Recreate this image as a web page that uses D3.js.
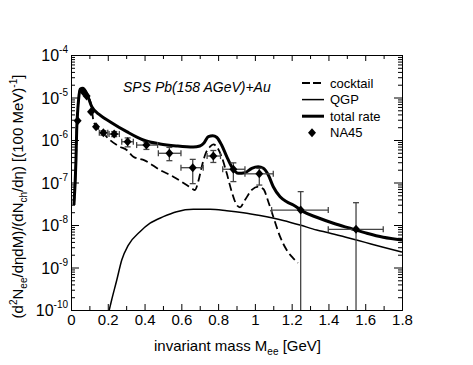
<!DOCTYPE html>
<html>
<head>
<meta charset="utf-8">
<script src="https://cdn.jsdelivr.net/npm/d3@7"></script>
<style>
body { margin: 0; background: #fff; }
svg { display: block; font-family: "Liberation Sans", Arial, Helvetica, sans-serif; }
</style>
</head>
<body>
<div id="chart"></div>
<script>
// total rate (thick line)
const totalMass = [0.016, 0.027, 0.031, 0.035, 0.041, 0.049, 0.064, 0.085, 0.113, 0.158, 0.212, 0.303, 0.393, 0.484, 0.575, 0.665, 0.701, 0.723, 0.747, 0.771, 0.792, 0.819, 0.847, 0.874, 0.910, 0.946, 0.983, 1.018, 1.046, 1.073, 1.1, 1.137, 1.173, 1.209, 1.263, 1.336, 1.427, 1.518, 1.609, 1.698, 1.8];
const totalRate = [2.96e-8, 3.38e-7, 1.72e-6, 3.89e-6, 8.7e-6, 1.56e-5, 1.64e-5, 1.26e-5, 6.08e-6, 3.87e-6, 2.70e-6, 1.57e-6, 1.0e-6, 8.05e-7, 7.23e-7, 6.84e-7, 7.23e-7, 8.5e-7, 1.2e-6, 1.26e-6, 1.16e-6, 7.62e-7, 4.05e-7, 2.35e-7, 1.64e-7, 1.70e-7, 2.16e-7, 2.35e-7, 2.16e-7, 1.5e-7, 7.96e-8, 4.63e-8, 3.53e-8, 2.96e-8, 2.06e-8, 1.52e-8, 1.10e-8, 8.36e-9, 6.38e-9, 5.14e-9, 4.44e-9];

// hadronic cocktail (dashed)
const cocktailMass = [0.016, 0.027, 0.031, 0.035, 0.041, 0.049, 0.064, 0.085, 0.113, 0.121, 0.14, 0.176, 0.212, 0.266, 0.303, 0.339, 0.4, 0.484, 0.556, 0.629, 0.656, 0.674, 0.692, 0.711, 0.729, 0.756, 0.774, 0.792, 0.819, 0.847, 0.874, 0.901, 0.919, 0.946, 0.983, 1.018, 1.046, 1.073, 1.1, 1.137, 1.173, 1.209, 1.234];
const cocktailRate = [2.96e-8, 3.38e-7, 1.72e-6, 3.89e-6, 8.7e-6, 1.56e-5, 1.64e-5, 1.26e-5, 5.66e-6, 2.95e-6, 2.02e-6, 1.44e-6, 1.0e-6, 6.95e-7, 5.82e-7, 4.05e-7, 3.31e-7, 1.97e-7, 1.37e-7, 8.73e-8, 7.31e-8, 6.67e-8, 1.05e-7, 2.35e-7, 4.44e-7, 6.95e-7, 7.93e-7, 6.95e-7, 4.05e-7, 1.64e-7, 6.08e-8, 2.96e-8, 2.61e-8, 3.87e-8, 6.67e-8, 7.96e-8, 7.03e-8, 3.53e-8, 1.57e-8, 5.31e-9, 2.58e-9, 1.64e-9, 1.28e-9];

// QGP (thin line)
const qgpMass = [0.208, 0.221, 0.249, 0.276, 0.312, 0.375, 0.43, 0.502, 0.575, 0.665, 0.756, 0.847, 0.937, 1.028, 1.154, 1.245, 1.336, 1.4, 1.5, 1.6, 1.698, 1.8];
const qgpRate = [1e-10, 1.72e-10, 5.08e-10, 1.5e-9, 3.38e-9, 6.95e-9, 1.1e-8, 1.57e-8, 2.06e-8, 2.34e-8, 2.34e-8, 2.17e-8, 1.95e-8, 1.67e-8, 1.28e-8, 1.0e-8, 7.6e-9, 6.6e-9, 5.1e-9, 3.9e-9, 3.0e-9, 2.32e-9];

// NA45 data
const na45Mass   = [0.036, 0.067, 0.085, 0.109, 0.136, 0.176, 0.235, 0.308, 0.41, 0.535, 0.662, 0.774, 0.883, 1.024, 1.249, 1.55];
const na45Rate   = [2.85e-6, 1.37e-5, 1.08e-5, 4.6e-6, 2.05e-6, 1.48e-6, 1.38e-6, 9.1e-7, 7.6e-7, 4.87e-7, 2.23e-7, 4.2e-7, 2.05e-7, 1.6e-7, 2.25e-8, 7.9e-9];
const na45MassLo = [null, null, null, null, null, 0.154, 0.207, 0.276, 0.357, 0.475, 0.598, 0.74, 0.825, 0.946, 1.091, 1.399];
const na45MassHi = [null, null, null, null, null, 0.2, 0.263, 0.339, 0.471, 0.598, 0.719, 0.813, 0.946, 1.1, 1.399, 1.698];
const na45RateLo = [null, null, null, null, null, 1.3e-6, 1.2e-6, 6.9e-7, 6.0e-7, 3.26e-7, 9.4e-8, 2.96e-7, 1.05e-7, 8.7e-8, 1e-11, 1e-11];
const na45RateHi = [null, null, null, null, null, 1.65e-6, 1.58e-6, 1.12e-6, 8.8e-7, 6.7e-7, 3.5e-7, 5.66e-7, 2.9e-7, 2.15e-7, 6.1e-8, 3.35e-8];

const xTicks = [0, 0.2, 0.4, 0.6, 0.8, 1, 1.2, 1.4, 1.6, 1.8];
const xMinor = [0.1, 0.3, 0.5, 0.7, 0.9, 1.1, 1.3, 1.5, 1.7];
const yExponents = [-10, -9, -8, -7, -6, -5, -4];

const width = 473, height = 365;
const margin = {top: 55, right: 71, bottom: 55, left: 71};

const svg = d3.select("#chart").append("svg")
    .attr("width", width)
    .attr("height", height);

const x = d3.scaleLinear().domain([0, 1.8]).range([margin.left, width - margin.right]);
const y = d3.scaleLog().domain([1e-10, 1e-4]).range([height - margin.bottom, margin.top]);

const yMajor = yExponents.map(e => Math.pow(10, e));
const yMinor = [];
yExponents.slice(0, -1).forEach(e => {
  for (let k = 2; k <= 9; k++) yMinor.push(k * Math.pow(10, e));
});

svg.append("clipPath").attr("id", "clip")
  .append("rect")
    .attr("x", margin.left).attr("y", margin.top)
    .attr("width", width - margin.left - margin.right)
    .attr("height", height - margin.top - margin.bottom);

const plot = svg.append("g").attr("clip-path", "url(#clip)");

const line = d3.line()
    .x(d => x(d[0]))
    .y(d => y(d[1]))
    .curve(d3.curveMonotoneX);

plot.append("path")
    .datum(d3.zip(qgpMass, qgpRate))
    .attr("fill", "none").attr("stroke", "#000").attr("stroke-width", 1.5)
    .attr("d", line);

plot.append("path")
    .datum(d3.zip(cocktailMass, cocktailRate))
    .attr("fill", "none").attr("stroke", "#000").attr("stroke-width", 1.8)
    .attr("stroke-dasharray", "8,4")
    .attr("d", line);

plot.append("path")
    .datum(d3.zip(totalMass, totalRate))
    .attr("fill", "none").attr("stroke", "#000").attr("stroke-width", 3)
    .attr("d", line);

// error bars
const pts = na45Mass.map((m, i) => ({
  m, r: na45Rate[i],
  mLo: na45MassLo[i], mHi: na45MassHi[i],
  rLo: na45RateLo[i], rHi: na45RateHi[i]
}));
const errColor = "#444";
const cap = 3;
const eb = plot.append("g").attr("stroke", errColor).attr("stroke-width", 1.3).attr("fill", "none");
pts.filter(d => d.mLo != null).forEach(d => {
  const cy = y(d.r), cx = x(d.m);
  eb.append("line").attr("x1", x(d.mLo)).attr("x2", x(d.mHi)).attr("y1", cy).attr("y2", cy);
  eb.append("line").attr("x1", x(d.mLo)).attr("x2", x(d.mLo)).attr("y1", cy - cap).attr("y2", cy + cap);
  eb.append("line").attr("x1", x(d.mHi)).attr("x2", x(d.mHi)).attr("y1", cy - cap).attr("y2", cy + cap);
  eb.append("line").attr("x1", cx).attr("x2", cx).attr("y1", y(d.rLo)).attr("y2", y(d.rHi));
  eb.append("line").attr("x1", cx - cap).attr("x2", cx + cap).attr("y1", y(d.rHi)).attr("y2", y(d.rHi));
  eb.append("line").attr("x1", cx - cap).attr("x2", cx + cap).attr("y1", y(d.rLo)).attr("y2", y(d.rLo));
});

const diamond = "M0,-4.5L4,0L0,4.5L-4,0Z";
plot.append("g").selectAll("path")
  .data(pts)
  .join("path")
    .attr("d", diamond)
    .attr("fill", "#000")
    .attr("transform", d => `translate(${x(d.m)},${y(d.r)})`);

// axes
const axisG = svg.append("g").attr("stroke-width", 1);
const noLabel = () => "";

axisG.append("g")
    .attr("transform", `translate(0,${height - margin.bottom})`)
    .call(d3.axisBottom(x).tickValues(xTicks).tickSize(-6).tickPadding(4)
      .tickFormat(d => d3.format("~g")(d)))
    .call(g => g.selectAll("text").attr("font-size", 15).attr("fill", "#000").attr("font-family", null));
axisG.append("g")
    .attr("transform", `translate(0,${height - margin.bottom})`)
    .call(d3.axisBottom(x).tickValues(xMinor).tickSize(-4).tickFormat(noLabel))
    .call(g => g.select(".domain").remove());
axisG.append("g")
    .attr("transform", `translate(0,${margin.top})`)
    .call(d3.axisTop(x).tickValues(xTicks).tickSize(-6).tickFormat(noLabel));
axisG.append("g")
    .attr("transform", `translate(0,${margin.top})`)
    .call(d3.axisTop(x).tickValues(xMinor).tickSize(-4).tickFormat(noLabel))
    .call(g => g.select(".domain").remove());

axisG.append("g")
    .attr("transform", `translate(${margin.left},0)`)
    .call(d3.axisLeft(y).tickValues(yMajor).tickSize(-8).tickFormat(noLabel));
axisG.append("g")
    .attr("transform", `translate(${margin.left},0)`)
    .call(d3.axisLeft(y).tickValues(yMinor).tickSize(-4).tickFormat(noLabel))
    .call(g => g.select(".domain").remove());
axisG.append("g")
    .attr("transform", `translate(${width - margin.right},0)`)
    .call(d3.axisRight(y).tickValues(yMajor).tickSize(-8).tickFormat(noLabel));
axisG.append("g")
    .attr("transform", `translate(${width - margin.right},0)`)
    .call(d3.axisRight(y).tickValues(yMinor).tickSize(-4).tickFormat(noLabel))
    .call(g => g.select(".domain").remove());

// y tick labels 10^n
const yl = svg.append("g").attr("font-size", 16).attr("text-anchor", "end");
yExponents.forEach(e => {
  const t = yl.append("text")
      .attr("x", margin.left - 3)
      .attr("y", y(Math.pow(10, e)) + 6);
  t.append("tspan").text("10");
  t.append("tspan").attr("font-size", 10).attr("dy", -8).text(String(e).replace("-", "-"));
});

// axis titles
const xt = svg.append("text")
    .attr("x", (margin.left + width - margin.right) / 2 + 1)
    .attr("y", 351)
    .attr("text-anchor", "middle")
    .attr("font-size", 15);
xt.append("tspan").text("invariant mass M");
xt.append("tspan").attr("font-size", 10).attr("dy", 4).text("ee");
xt.append("tspan").attr("dy", -4).text(" [GeV]");

const yt = svg.append("text")
    .attr("transform", `translate(23,${(margin.top + height - margin.bottom) / 2 + 14}) rotate(-90)`)
    .attr("text-anchor", "middle")
    .attr("font-size", 15);
yt.append("tspan").text("(d");
yt.append("tspan").attr("font-size", 10).attr("dy", -6).text("2");
yt.append("tspan").attr("dy", 6).text("N");
yt.append("tspan").attr("font-size", 10).attr("dy", 4).text("ee");
yt.append("tspan").attr("dy", -4).text("/dηdM)/(dN");
yt.append("tspan").attr("font-size", 10).attr("dy", 4).text("ch");
yt.append("tspan").attr("dy", -4).text("/dη) [(100 MeV)");
yt.append("tspan").attr("font-size", 10).attr("dy", -6).text("-1");
yt.append("tspan").attr("dy", 6).text("]");

// annotation
svg.append("text")
    .attr("x", 123).attr("y", 92)
    .attr("font-size", 14).attr("font-style", "italic")
    .text("SPS Pb(158 AGeV)+Au");

// legend
const legendItems = [
  {label: "cocktail", dash: "8,3", w: 1.8},
  {label: "QGP", dash: null, w: 1.5},
  {label: "total rate", dash: null, w: 3},
  {label: "NA45", marker: true}
];
const lg = svg.append("g").attr("font-size", 13);
legendItems.forEach((d, i) => {
  const ly = 83 + i * 16.6;
  if (d.marker) {
    lg.append("path").attr("d", diamond).attr("fill", "#000")
      .attr("transform", `translate(312,${ly})`);
  } else {
    lg.append("line").attr("x1", 302).attr("x2", 324).attr("y1", ly).attr("y2", ly)
      .attr("stroke", "#000").attr("stroke-width", d.w)
      .attr("stroke-dasharray", d.dash);
  }
  lg.append("text").attr("x", 330).attr("y", ly + 4.5).text(d.label);
});
</script>
</body>
</html>
